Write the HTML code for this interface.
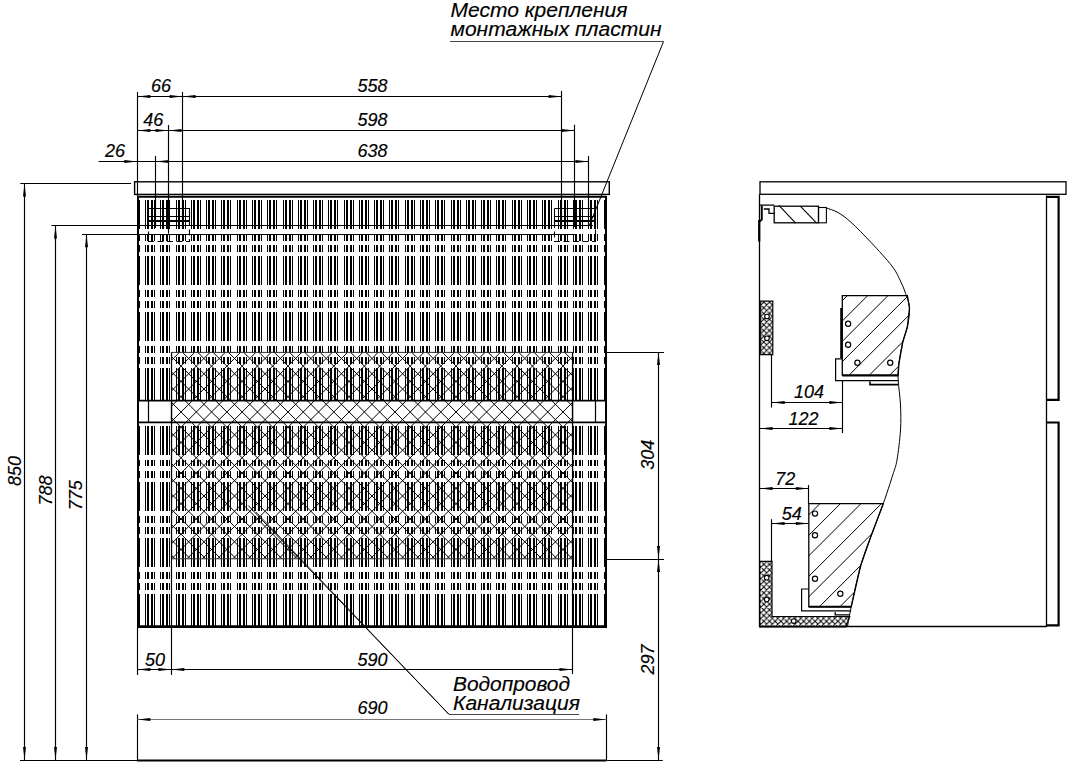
<!DOCTYPE html>
<html><head><meta charset="utf-8"><style>
html,body{margin:0;padding:0;background:#fff;width:1073px;height:769px;overflow:hidden}
svg{display:block}
text{font-family:"Liberation Sans",sans-serif;font-style:italic;fill:#000;stroke:#000;stroke-width:0.15px}
</style></head><body>
<svg width="1073" height="769" viewBox="0 0 1073 769">
<rect width="1073" height="769" fill="#fff"/>
<path d="M145 200h1v29h-1zM145 234h1v7h-1zM145 245h1v7h-1zM145 256h1v29h-1zM145 290h1v7h-1zM145 301h1v7h-1zM145 312h1v29h-1zM145 346h1v7h-1zM145 357h1v7h-1zM145 368h1v32h-1zM145 426h1v29h-1zM145 460h1v6h-1zM145 471h1v7h-1zM145 482h1v29h-1zM145 516h1v7h-1zM145 527h1v7h-1zM145 538h1v29h-1zM145 572h1v7h-1zM145 583h1v7h-1zM145 594h1v32h-1zM147 200h2v29h-2zM147 234h2v7h-2zM147 245h2v7h-2zM147 256h2v29h-2zM147 290h2v7h-2zM147 301h2v7h-2zM147 312h2v29h-2zM147 346h2v7h-2zM147 357h2v7h-2zM147 368h2v32h-2zM147 426h2v29h-2zM147 460h2v6h-2zM147 471h2v7h-2zM147 482h2v29h-2zM147 516h2v7h-2zM147 527h2v7h-2zM147 538h2v29h-2zM147 572h2v7h-2zM147 583h2v7h-2zM147 594h2v32h-2zM151 200h2v29h-2zM151 234h2v7h-2zM151 245h2v7h-2zM151 256h2v29h-2zM151 290h2v7h-2zM151 301h2v7h-2zM151 312h2v29h-2zM151 346h2v7h-2zM151 357h2v7h-2zM151 368h2v32h-2zM151 426h2v29h-2zM151 460h2v6h-2zM151 471h2v7h-2zM151 482h2v29h-2zM151 516h2v7h-2zM151 527h2v7h-2zM151 538h2v29h-2zM151 572h2v7h-2zM151 583h2v7h-2zM151 594h2v32h-2zM154 200h1v29h-1zM154 234h1v7h-1zM154 245h1v7h-1zM154 256h1v29h-1zM154 290h1v7h-1zM154 301h1v7h-1zM154 312h1v29h-1zM154 346h1v7h-1zM154 357h1v7h-1zM154 368h1v32h-1zM154 426h1v29h-1zM154 460h1v6h-1zM154 471h1v7h-1zM154 482h1v29h-1zM154 516h1v7h-1zM154 527h1v7h-1zM154 538h1v29h-1zM154 572h1v7h-1zM154 583h1v7h-1zM154 594h1v32h-1zM160 200h1v29h-1zM160 234h1v7h-1zM160 245h1v7h-1zM160 256h1v29h-1zM160 290h1v7h-1zM160 301h1v7h-1zM160 312h1v29h-1zM160 346h1v7h-1zM160 357h1v7h-1zM160 368h1v32h-1zM160 426h1v29h-1zM160 460h1v6h-1zM160 471h1v7h-1zM160 482h1v29h-1zM160 516h1v7h-1zM160 527h1v7h-1zM160 538h1v29h-1zM160 572h1v7h-1zM160 583h1v7h-1zM160 594h1v32h-1zM162 200h2v29h-2zM162 234h2v7h-2zM162 245h2v7h-2zM162 256h2v29h-2zM162 290h2v7h-2zM162 301h2v7h-2zM162 312h2v29h-2zM162 346h2v7h-2zM162 357h2v7h-2zM162 368h2v32h-2zM162 426h2v29h-2zM162 460h2v6h-2zM162 471h2v7h-2zM162 482h2v29h-2zM162 516h2v7h-2zM162 527h2v7h-2zM162 538h2v29h-2zM162 572h2v7h-2zM162 583h2v7h-2zM162 594h2v32h-2zM166 200h2v29h-2zM166 234h2v7h-2zM166 245h2v7h-2zM166 256h2v29h-2zM166 290h2v7h-2zM166 301h2v7h-2zM166 312h2v29h-2zM166 346h2v7h-2zM166 357h2v7h-2zM166 368h2v32h-2zM166 426h2v29h-2zM166 460h2v6h-2zM166 471h2v7h-2zM166 482h2v29h-2zM166 516h2v7h-2zM166 527h2v7h-2zM166 538h2v29h-2zM166 572h2v7h-2zM166 583h2v7h-2zM166 594h2v32h-2zM169 200h1v29h-1zM169 234h1v7h-1zM169 245h1v7h-1zM169 256h1v29h-1zM169 290h1v7h-1zM169 301h1v7h-1zM169 312h1v29h-1zM169 346h1v7h-1zM169 357h1v7h-1zM169 368h1v32h-1zM169 426h1v29h-1zM169 460h1v6h-1zM169 471h1v7h-1zM169 482h1v29h-1zM169 516h1v7h-1zM169 527h1v7h-1zM169 538h1v29h-1zM169 572h1v7h-1zM169 583h1v7h-1zM169 594h1v32h-1zM176 200h1v29h-1zM176 234h1v7h-1zM176 245h1v7h-1zM176 256h1v29h-1zM176 290h1v7h-1zM176 301h1v7h-1zM176 312h1v29h-1zM176 346h1v7h-1zM176 357h1v7h-1zM176 368h1v32h-1zM176 426h1v29h-1zM176 460h1v6h-1zM176 471h1v7h-1zM176 482h1v29h-1zM176 516h1v7h-1zM176 527h1v7h-1zM176 538h1v29h-1zM176 572h1v7h-1zM176 583h1v7h-1zM176 594h1v32h-1zM178 200h2v29h-2zM178 234h2v7h-2zM178 245h2v7h-2zM178 256h2v29h-2zM178 290h2v7h-2zM178 301h2v7h-2zM178 312h2v29h-2zM178 346h2v7h-2zM178 357h2v7h-2zM178 368h2v32h-2zM178 426h2v29h-2zM178 460h2v6h-2zM178 471h2v7h-2zM178 482h2v29h-2zM178 516h2v7h-2zM178 527h2v7h-2zM178 538h2v29h-2zM178 572h2v7h-2zM178 583h2v7h-2zM178 594h2v32h-2zM182 200h2v29h-2zM182 234h2v7h-2zM182 245h2v7h-2zM182 256h2v29h-2zM182 290h2v7h-2zM182 301h2v7h-2zM182 312h2v29h-2zM182 346h2v7h-2zM182 357h2v7h-2zM182 368h2v32h-2zM182 426h2v29h-2zM182 460h2v6h-2zM182 471h2v7h-2zM182 482h2v29h-2zM182 516h2v7h-2zM182 527h2v7h-2zM182 538h2v29h-2zM182 572h2v7h-2zM182 583h2v7h-2zM182 594h2v32h-2zM185 200h1v29h-1zM185 234h1v7h-1zM185 245h1v7h-1zM185 256h1v29h-1zM185 290h1v7h-1zM185 301h1v7h-1zM185 312h1v29h-1zM185 346h1v7h-1zM185 357h1v7h-1zM185 368h1v32h-1zM185 426h1v29h-1zM185 460h1v6h-1zM185 471h1v7h-1zM185 482h1v29h-1zM185 516h1v7h-1zM185 527h1v7h-1zM185 538h1v29h-1zM185 572h1v7h-1zM185 583h1v7h-1zM185 594h1v32h-1zM191 200h1v29h-1zM191 234h1v7h-1zM191 245h1v7h-1zM191 256h1v29h-1zM191 290h1v7h-1zM191 301h1v7h-1zM191 312h1v29h-1zM191 346h1v7h-1zM191 357h1v7h-1zM191 368h1v32h-1zM191 426h1v29h-1zM191 460h1v6h-1zM191 471h1v7h-1zM191 482h1v29h-1zM191 516h1v7h-1zM191 527h1v7h-1zM191 538h1v29h-1zM191 572h1v7h-1zM191 583h1v7h-1zM191 594h1v32h-1zM193 200h2v29h-2zM193 234h2v7h-2zM193 245h2v7h-2zM193 256h2v29h-2zM193 290h2v7h-2zM193 301h2v7h-2zM193 312h2v29h-2zM193 346h2v7h-2zM193 357h2v7h-2zM193 368h2v32h-2zM193 426h2v29h-2zM193 460h2v6h-2zM193 471h2v7h-2zM193 482h2v29h-2zM193 516h2v7h-2zM193 527h2v7h-2zM193 538h2v29h-2zM193 572h2v7h-2zM193 583h2v7h-2zM193 594h2v32h-2zM197 200h2v29h-2zM197 234h2v7h-2zM197 245h2v7h-2zM197 256h2v29h-2zM197 290h2v7h-2zM197 301h2v7h-2zM197 312h2v29h-2zM197 346h2v7h-2zM197 357h2v7h-2zM197 368h2v32h-2zM197 426h2v29h-2zM197 460h2v6h-2zM197 471h2v7h-2zM197 482h2v29h-2zM197 516h2v7h-2zM197 527h2v7h-2zM197 538h2v29h-2zM197 572h2v7h-2zM197 583h2v7h-2zM197 594h2v32h-2zM200 200h1v29h-1zM200 234h1v7h-1zM200 245h1v7h-1zM200 256h1v29h-1zM200 290h1v7h-1zM200 301h1v7h-1zM200 312h1v29h-1zM200 346h1v7h-1zM200 357h1v7h-1zM200 368h1v32h-1zM200 426h1v29h-1zM200 460h1v6h-1zM200 471h1v7h-1zM200 482h1v29h-1zM200 516h1v7h-1zM200 527h1v7h-1zM200 538h1v29h-1zM200 572h1v7h-1zM200 583h1v7h-1zM200 594h1v32h-1zM206 200h1v29h-1zM206 234h1v7h-1zM206 245h1v7h-1zM206 256h1v29h-1zM206 290h1v7h-1zM206 301h1v7h-1zM206 312h1v29h-1zM206 346h1v7h-1zM206 357h1v7h-1zM206 368h1v32h-1zM206 426h1v29h-1zM206 460h1v6h-1zM206 471h1v7h-1zM206 482h1v29h-1zM206 516h1v7h-1zM206 527h1v7h-1zM206 538h1v29h-1zM206 572h1v7h-1zM206 583h1v7h-1zM206 594h1v32h-1zM208 200h2v29h-2zM208 234h2v7h-2zM208 245h2v7h-2zM208 256h2v29h-2zM208 290h2v7h-2zM208 301h2v7h-2zM208 312h2v29h-2zM208 346h2v7h-2zM208 357h2v7h-2zM208 368h2v32h-2zM208 426h2v29h-2zM208 460h2v6h-2zM208 471h2v7h-2zM208 482h2v29h-2zM208 516h2v7h-2zM208 527h2v7h-2zM208 538h2v29h-2zM208 572h2v7h-2zM208 583h2v7h-2zM208 594h2v32h-2zM212 200h2v29h-2zM212 234h2v7h-2zM212 245h2v7h-2zM212 256h2v29h-2zM212 290h2v7h-2zM212 301h2v7h-2zM212 312h2v29h-2zM212 346h2v7h-2zM212 357h2v7h-2zM212 368h2v32h-2zM212 426h2v29h-2zM212 460h2v6h-2zM212 471h2v7h-2zM212 482h2v29h-2zM212 516h2v7h-2zM212 527h2v7h-2zM212 538h2v29h-2zM212 572h2v7h-2zM212 583h2v7h-2zM212 594h2v32h-2zM215 200h1v29h-1zM215 234h1v7h-1zM215 245h1v7h-1zM215 256h1v29h-1zM215 290h1v7h-1zM215 301h1v7h-1zM215 312h1v29h-1zM215 346h1v7h-1zM215 357h1v7h-1zM215 368h1v32h-1zM215 426h1v29h-1zM215 460h1v6h-1zM215 471h1v7h-1zM215 482h1v29h-1zM215 516h1v7h-1zM215 527h1v7h-1zM215 538h1v29h-1zM215 572h1v7h-1zM215 583h1v7h-1zM215 594h1v32h-1zM221 200h1v29h-1zM221 234h1v7h-1zM221 245h1v7h-1zM221 256h1v29h-1zM221 290h1v7h-1zM221 301h1v7h-1zM221 312h1v29h-1zM221 346h1v7h-1zM221 357h1v7h-1zM221 368h1v32h-1zM221 426h1v29h-1zM221 460h1v6h-1zM221 471h1v7h-1zM221 482h1v29h-1zM221 516h1v7h-1zM221 527h1v7h-1zM221 538h1v29h-1zM221 572h1v7h-1zM221 583h1v7h-1zM221 594h1v32h-1zM223 200h2v29h-2zM223 234h2v7h-2zM223 245h2v7h-2zM223 256h2v29h-2zM223 290h2v7h-2zM223 301h2v7h-2zM223 312h2v29h-2zM223 346h2v7h-2zM223 357h2v7h-2zM223 368h2v32h-2zM223 426h2v29h-2zM223 460h2v6h-2zM223 471h2v7h-2zM223 482h2v29h-2zM223 516h2v7h-2zM223 527h2v7h-2zM223 538h2v29h-2zM223 572h2v7h-2zM223 583h2v7h-2zM223 594h2v32h-2zM227 200h2v29h-2zM227 234h2v7h-2zM227 245h2v7h-2zM227 256h2v29h-2zM227 290h2v7h-2zM227 301h2v7h-2zM227 312h2v29h-2zM227 346h2v7h-2zM227 357h2v7h-2zM227 368h2v32h-2zM227 426h2v29h-2zM227 460h2v6h-2zM227 471h2v7h-2zM227 482h2v29h-2zM227 516h2v7h-2zM227 527h2v7h-2zM227 538h2v29h-2zM227 572h2v7h-2zM227 583h2v7h-2zM227 594h2v32h-2zM230 200h1v29h-1zM230 234h1v7h-1zM230 245h1v7h-1zM230 256h1v29h-1zM230 290h1v7h-1zM230 301h1v7h-1zM230 312h1v29h-1zM230 346h1v7h-1zM230 357h1v7h-1zM230 368h1v32h-1zM230 426h1v29h-1zM230 460h1v6h-1zM230 471h1v7h-1zM230 482h1v29h-1zM230 516h1v7h-1zM230 527h1v7h-1zM230 538h1v29h-1zM230 572h1v7h-1zM230 583h1v7h-1zM230 594h1v32h-1zM237 200h1v29h-1zM237 234h1v7h-1zM237 245h1v7h-1zM237 256h1v29h-1zM237 290h1v7h-1zM237 301h1v7h-1zM237 312h1v29h-1zM237 346h1v7h-1zM237 357h1v7h-1zM237 368h1v32h-1zM237 426h1v29h-1zM237 460h1v6h-1zM237 471h1v7h-1zM237 482h1v29h-1zM237 516h1v7h-1zM237 527h1v7h-1zM237 538h1v29h-1zM237 572h1v7h-1zM237 583h1v7h-1zM237 594h1v32h-1zM239 200h2v29h-2zM239 234h2v7h-2zM239 245h2v7h-2zM239 256h2v29h-2zM239 290h2v7h-2zM239 301h2v7h-2zM239 312h2v29h-2zM239 346h2v7h-2zM239 357h2v7h-2zM239 368h2v32h-2zM239 426h2v29h-2zM239 460h2v6h-2zM239 471h2v7h-2zM239 482h2v29h-2zM239 516h2v7h-2zM239 527h2v7h-2zM239 538h2v29h-2zM239 572h2v7h-2zM239 583h2v7h-2zM239 594h2v32h-2zM243 200h2v29h-2zM243 234h2v7h-2zM243 245h2v7h-2zM243 256h2v29h-2zM243 290h2v7h-2zM243 301h2v7h-2zM243 312h2v29h-2zM243 346h2v7h-2zM243 357h2v7h-2zM243 368h2v32h-2zM243 426h2v29h-2zM243 460h2v6h-2zM243 471h2v7h-2zM243 482h2v29h-2zM243 516h2v7h-2zM243 527h2v7h-2zM243 538h2v29h-2zM243 572h2v7h-2zM243 583h2v7h-2zM243 594h2v32h-2zM246 200h1v29h-1zM246 234h1v7h-1zM246 245h1v7h-1zM246 256h1v29h-1zM246 290h1v7h-1zM246 301h1v7h-1zM246 312h1v29h-1zM246 346h1v7h-1zM246 357h1v7h-1zM246 368h1v32h-1zM246 426h1v29h-1zM246 460h1v6h-1zM246 471h1v7h-1zM246 482h1v29h-1zM246 516h1v7h-1zM246 527h1v7h-1zM246 538h1v29h-1zM246 572h1v7h-1zM246 583h1v7h-1zM246 594h1v32h-1zM252 200h1v29h-1zM252 234h1v7h-1zM252 245h1v7h-1zM252 256h1v29h-1zM252 290h1v7h-1zM252 301h1v7h-1zM252 312h1v29h-1zM252 346h1v7h-1zM252 357h1v7h-1zM252 368h1v32h-1zM252 426h1v29h-1zM252 460h1v6h-1zM252 471h1v7h-1zM252 482h1v29h-1zM252 516h1v7h-1zM252 527h1v7h-1zM252 538h1v29h-1zM252 572h1v7h-1zM252 583h1v7h-1zM252 594h1v32h-1zM254 200h2v29h-2zM254 234h2v7h-2zM254 245h2v7h-2zM254 256h2v29h-2zM254 290h2v7h-2zM254 301h2v7h-2zM254 312h2v29h-2zM254 346h2v7h-2zM254 357h2v7h-2zM254 368h2v32h-2zM254 426h2v29h-2zM254 460h2v6h-2zM254 471h2v7h-2zM254 482h2v29h-2zM254 516h2v7h-2zM254 527h2v7h-2zM254 538h2v29h-2zM254 572h2v7h-2zM254 583h2v7h-2zM254 594h2v32h-2zM258 200h2v29h-2zM258 234h2v7h-2zM258 245h2v7h-2zM258 256h2v29h-2zM258 290h2v7h-2zM258 301h2v7h-2zM258 312h2v29h-2zM258 346h2v7h-2zM258 357h2v7h-2zM258 368h2v32h-2zM258 426h2v29h-2zM258 460h2v6h-2zM258 471h2v7h-2zM258 482h2v29h-2zM258 516h2v7h-2zM258 527h2v7h-2zM258 538h2v29h-2zM258 572h2v7h-2zM258 583h2v7h-2zM258 594h2v32h-2zM261 200h1v29h-1zM261 234h1v7h-1zM261 245h1v7h-1zM261 256h1v29h-1zM261 290h1v7h-1zM261 301h1v7h-1zM261 312h1v29h-1zM261 346h1v7h-1zM261 357h1v7h-1zM261 368h1v32h-1zM261 426h1v29h-1zM261 460h1v6h-1zM261 471h1v7h-1zM261 482h1v29h-1zM261 516h1v7h-1zM261 527h1v7h-1zM261 538h1v29h-1zM261 572h1v7h-1zM261 583h1v7h-1zM261 594h1v32h-1zM267 200h1v29h-1zM267 234h1v7h-1zM267 245h1v7h-1zM267 256h1v29h-1zM267 290h1v7h-1zM267 301h1v7h-1zM267 312h1v29h-1zM267 346h1v7h-1zM267 357h1v7h-1zM267 368h1v32h-1zM267 426h1v29h-1zM267 460h1v6h-1zM267 471h1v7h-1zM267 482h1v29h-1zM267 516h1v7h-1zM267 527h1v7h-1zM267 538h1v29h-1zM267 572h1v7h-1zM267 583h1v7h-1zM267 594h1v32h-1zM269 200h2v29h-2zM269 234h2v7h-2zM269 245h2v7h-2zM269 256h2v29h-2zM269 290h2v7h-2zM269 301h2v7h-2zM269 312h2v29h-2zM269 346h2v7h-2zM269 357h2v7h-2zM269 368h2v32h-2zM269 426h2v29h-2zM269 460h2v6h-2zM269 471h2v7h-2zM269 482h2v29h-2zM269 516h2v7h-2zM269 527h2v7h-2zM269 538h2v29h-2zM269 572h2v7h-2zM269 583h2v7h-2zM269 594h2v32h-2zM273 200h2v29h-2zM273 234h2v7h-2zM273 245h2v7h-2zM273 256h2v29h-2zM273 290h2v7h-2zM273 301h2v7h-2zM273 312h2v29h-2zM273 346h2v7h-2zM273 357h2v7h-2zM273 368h2v32h-2zM273 426h2v29h-2zM273 460h2v6h-2zM273 471h2v7h-2zM273 482h2v29h-2zM273 516h2v7h-2zM273 527h2v7h-2zM273 538h2v29h-2zM273 572h2v7h-2zM273 583h2v7h-2zM273 594h2v32h-2zM276 200h1v29h-1zM276 234h1v7h-1zM276 245h1v7h-1zM276 256h1v29h-1zM276 290h1v7h-1zM276 301h1v7h-1zM276 312h1v29h-1zM276 346h1v7h-1zM276 357h1v7h-1zM276 368h1v32h-1zM276 426h1v29h-1zM276 460h1v6h-1zM276 471h1v7h-1zM276 482h1v29h-1zM276 516h1v7h-1zM276 527h1v7h-1zM276 538h1v29h-1zM276 572h1v7h-1zM276 583h1v7h-1zM276 594h1v32h-1zM283 200h1v29h-1zM283 234h1v7h-1zM283 245h1v7h-1zM283 256h1v29h-1zM283 290h1v7h-1zM283 301h1v7h-1zM283 312h1v29h-1zM283 346h1v7h-1zM283 357h1v7h-1zM283 368h1v32h-1zM283 426h1v29h-1zM283 460h1v6h-1zM283 471h1v7h-1zM283 482h1v29h-1zM283 516h1v7h-1zM283 527h1v7h-1zM283 538h1v29h-1zM283 572h1v7h-1zM283 583h1v7h-1zM283 594h1v32h-1zM285 200h2v29h-2zM285 234h2v7h-2zM285 245h2v7h-2zM285 256h2v29h-2zM285 290h2v7h-2zM285 301h2v7h-2zM285 312h2v29h-2zM285 346h2v7h-2zM285 357h2v7h-2zM285 368h2v32h-2zM285 426h2v29h-2zM285 460h2v6h-2zM285 471h2v7h-2zM285 482h2v29h-2zM285 516h2v7h-2zM285 527h2v7h-2zM285 538h2v29h-2zM285 572h2v7h-2zM285 583h2v7h-2zM285 594h2v32h-2zM289 200h2v29h-2zM289 234h2v7h-2zM289 245h2v7h-2zM289 256h2v29h-2zM289 290h2v7h-2zM289 301h2v7h-2zM289 312h2v29h-2zM289 346h2v7h-2zM289 357h2v7h-2zM289 368h2v32h-2zM289 426h2v29h-2zM289 460h2v6h-2zM289 471h2v7h-2zM289 482h2v29h-2zM289 516h2v7h-2zM289 527h2v7h-2zM289 538h2v29h-2zM289 572h2v7h-2zM289 583h2v7h-2zM289 594h2v32h-2zM292 200h1v29h-1zM292 234h1v7h-1zM292 245h1v7h-1zM292 256h1v29h-1zM292 290h1v7h-1zM292 301h1v7h-1zM292 312h1v29h-1zM292 346h1v7h-1zM292 357h1v7h-1zM292 368h1v32h-1zM292 426h1v29h-1zM292 460h1v6h-1zM292 471h1v7h-1zM292 482h1v29h-1zM292 516h1v7h-1zM292 527h1v7h-1zM292 538h1v29h-1zM292 572h1v7h-1zM292 583h1v7h-1zM292 594h1v32h-1zM298 200h1v29h-1zM298 234h1v7h-1zM298 245h1v7h-1zM298 256h1v29h-1zM298 290h1v7h-1zM298 301h1v7h-1zM298 312h1v29h-1zM298 346h1v7h-1zM298 357h1v7h-1zM298 368h1v32h-1zM298 426h1v29h-1zM298 460h1v6h-1zM298 471h1v7h-1zM298 482h1v29h-1zM298 516h1v7h-1zM298 527h1v7h-1zM298 538h1v29h-1zM298 572h1v7h-1zM298 583h1v7h-1zM298 594h1v32h-1zM300 200h2v29h-2zM300 234h2v7h-2zM300 245h2v7h-2zM300 256h2v29h-2zM300 290h2v7h-2zM300 301h2v7h-2zM300 312h2v29h-2zM300 346h2v7h-2zM300 357h2v7h-2zM300 368h2v32h-2zM300 426h2v29h-2zM300 460h2v6h-2zM300 471h2v7h-2zM300 482h2v29h-2zM300 516h2v7h-2zM300 527h2v7h-2zM300 538h2v29h-2zM300 572h2v7h-2zM300 583h2v7h-2zM300 594h2v32h-2zM304 200h2v29h-2zM304 234h2v7h-2zM304 245h2v7h-2zM304 256h2v29h-2zM304 290h2v7h-2zM304 301h2v7h-2zM304 312h2v29h-2zM304 346h2v7h-2zM304 357h2v7h-2zM304 368h2v32h-2zM304 426h2v29h-2zM304 460h2v6h-2zM304 471h2v7h-2zM304 482h2v29h-2zM304 516h2v7h-2zM304 527h2v7h-2zM304 538h2v29h-2zM304 572h2v7h-2zM304 583h2v7h-2zM304 594h2v32h-2zM307 200h1v29h-1zM307 234h1v7h-1zM307 245h1v7h-1zM307 256h1v29h-1zM307 290h1v7h-1zM307 301h1v7h-1zM307 312h1v29h-1zM307 346h1v7h-1zM307 357h1v7h-1zM307 368h1v32h-1zM307 426h1v29h-1zM307 460h1v6h-1zM307 471h1v7h-1zM307 482h1v29h-1zM307 516h1v7h-1zM307 527h1v7h-1zM307 538h1v29h-1zM307 572h1v7h-1zM307 583h1v7h-1zM307 594h1v32h-1zM313 200h1v29h-1zM313 234h1v7h-1zM313 245h1v7h-1zM313 256h1v29h-1zM313 290h1v7h-1zM313 301h1v7h-1zM313 312h1v29h-1zM313 346h1v7h-1zM313 357h1v7h-1zM313 368h1v32h-1zM313 426h1v29h-1zM313 460h1v6h-1zM313 471h1v7h-1zM313 482h1v29h-1zM313 516h1v7h-1zM313 527h1v7h-1zM313 538h1v29h-1zM313 572h1v7h-1zM313 583h1v7h-1zM313 594h1v32h-1zM315 200h2v29h-2zM315 234h2v7h-2zM315 245h2v7h-2zM315 256h2v29h-2zM315 290h2v7h-2zM315 301h2v7h-2zM315 312h2v29h-2zM315 346h2v7h-2zM315 357h2v7h-2zM315 368h2v32h-2zM315 426h2v29h-2zM315 460h2v6h-2zM315 471h2v7h-2zM315 482h2v29h-2zM315 516h2v7h-2zM315 527h2v7h-2zM315 538h2v29h-2zM315 572h2v7h-2zM315 583h2v7h-2zM315 594h2v32h-2zM319 200h2v29h-2zM319 234h2v7h-2zM319 245h2v7h-2zM319 256h2v29h-2zM319 290h2v7h-2zM319 301h2v7h-2zM319 312h2v29h-2zM319 346h2v7h-2zM319 357h2v7h-2zM319 368h2v32h-2zM319 426h2v29h-2zM319 460h2v6h-2zM319 471h2v7h-2zM319 482h2v29h-2zM319 516h2v7h-2zM319 527h2v7h-2zM319 538h2v29h-2zM319 572h2v7h-2zM319 583h2v7h-2zM319 594h2v32h-2zM322 200h1v29h-1zM322 234h1v7h-1zM322 245h1v7h-1zM322 256h1v29h-1zM322 290h1v7h-1zM322 301h1v7h-1zM322 312h1v29h-1zM322 346h1v7h-1zM322 357h1v7h-1zM322 368h1v32h-1zM322 426h1v29h-1zM322 460h1v6h-1zM322 471h1v7h-1zM322 482h1v29h-1zM322 516h1v7h-1zM322 527h1v7h-1zM322 538h1v29h-1zM322 572h1v7h-1zM322 583h1v7h-1zM322 594h1v32h-1zM328 200h1v29h-1zM328 234h1v7h-1zM328 245h1v7h-1zM328 256h1v29h-1zM328 290h1v7h-1zM328 301h1v7h-1zM328 312h1v29h-1zM328 346h1v7h-1zM328 357h1v7h-1zM328 368h1v32h-1zM328 426h1v29h-1zM328 460h1v6h-1zM328 471h1v7h-1zM328 482h1v29h-1zM328 516h1v7h-1zM328 527h1v7h-1zM328 538h1v29h-1zM328 572h1v7h-1zM328 583h1v7h-1zM328 594h1v32h-1zM330 200h2v29h-2zM330 234h2v7h-2zM330 245h2v7h-2zM330 256h2v29h-2zM330 290h2v7h-2zM330 301h2v7h-2zM330 312h2v29h-2zM330 346h2v7h-2zM330 357h2v7h-2zM330 368h2v32h-2zM330 426h2v29h-2zM330 460h2v6h-2zM330 471h2v7h-2zM330 482h2v29h-2zM330 516h2v7h-2zM330 527h2v7h-2zM330 538h2v29h-2zM330 572h2v7h-2zM330 583h2v7h-2zM330 594h2v32h-2zM334 200h2v29h-2zM334 234h2v7h-2zM334 245h2v7h-2zM334 256h2v29h-2zM334 290h2v7h-2zM334 301h2v7h-2zM334 312h2v29h-2zM334 346h2v7h-2zM334 357h2v7h-2zM334 368h2v32h-2zM334 426h2v29h-2zM334 460h2v6h-2zM334 471h2v7h-2zM334 482h2v29h-2zM334 516h2v7h-2zM334 527h2v7h-2zM334 538h2v29h-2zM334 572h2v7h-2zM334 583h2v7h-2zM334 594h2v32h-2zM337 200h1v29h-1zM337 234h1v7h-1zM337 245h1v7h-1zM337 256h1v29h-1zM337 290h1v7h-1zM337 301h1v7h-1zM337 312h1v29h-1zM337 346h1v7h-1zM337 357h1v7h-1zM337 368h1v32h-1zM337 426h1v29h-1zM337 460h1v6h-1zM337 471h1v7h-1zM337 482h1v29h-1zM337 516h1v7h-1zM337 527h1v7h-1zM337 538h1v29h-1zM337 572h1v7h-1zM337 583h1v7h-1zM337 594h1v32h-1zM344 200h1v29h-1zM344 234h1v7h-1zM344 245h1v7h-1zM344 256h1v29h-1zM344 290h1v7h-1zM344 301h1v7h-1zM344 312h1v29h-1zM344 346h1v7h-1zM344 357h1v7h-1zM344 368h1v32h-1zM344 426h1v29h-1zM344 460h1v6h-1zM344 471h1v7h-1zM344 482h1v29h-1zM344 516h1v7h-1zM344 527h1v7h-1zM344 538h1v29h-1zM344 572h1v7h-1zM344 583h1v7h-1zM344 594h1v32h-1zM346 200h2v29h-2zM346 234h2v7h-2zM346 245h2v7h-2zM346 256h2v29h-2zM346 290h2v7h-2zM346 301h2v7h-2zM346 312h2v29h-2zM346 346h2v7h-2zM346 357h2v7h-2zM346 368h2v32h-2zM346 426h2v29h-2zM346 460h2v6h-2zM346 471h2v7h-2zM346 482h2v29h-2zM346 516h2v7h-2zM346 527h2v7h-2zM346 538h2v29h-2zM346 572h2v7h-2zM346 583h2v7h-2zM346 594h2v32h-2zM350 200h2v29h-2zM350 234h2v7h-2zM350 245h2v7h-2zM350 256h2v29h-2zM350 290h2v7h-2zM350 301h2v7h-2zM350 312h2v29h-2zM350 346h2v7h-2zM350 357h2v7h-2zM350 368h2v32h-2zM350 426h2v29h-2zM350 460h2v6h-2zM350 471h2v7h-2zM350 482h2v29h-2zM350 516h2v7h-2zM350 527h2v7h-2zM350 538h2v29h-2zM350 572h2v7h-2zM350 583h2v7h-2zM350 594h2v32h-2zM353 200h1v29h-1zM353 234h1v7h-1zM353 245h1v7h-1zM353 256h1v29h-1zM353 290h1v7h-1zM353 301h1v7h-1zM353 312h1v29h-1zM353 346h1v7h-1zM353 357h1v7h-1zM353 368h1v32h-1zM353 426h1v29h-1zM353 460h1v6h-1zM353 471h1v7h-1zM353 482h1v29h-1zM353 516h1v7h-1zM353 527h1v7h-1zM353 538h1v29h-1zM353 572h1v7h-1zM353 583h1v7h-1zM353 594h1v32h-1zM359 200h1v29h-1zM359 234h1v7h-1zM359 245h1v7h-1zM359 256h1v29h-1zM359 290h1v7h-1zM359 301h1v7h-1zM359 312h1v29h-1zM359 346h1v7h-1zM359 357h1v7h-1zM359 368h1v32h-1zM359 426h1v29h-1zM359 460h1v6h-1zM359 471h1v7h-1zM359 482h1v29h-1zM359 516h1v7h-1zM359 527h1v7h-1zM359 538h1v29h-1zM359 572h1v7h-1zM359 583h1v7h-1zM359 594h1v32h-1zM361 200h2v29h-2zM361 234h2v7h-2zM361 245h2v7h-2zM361 256h2v29h-2zM361 290h2v7h-2zM361 301h2v7h-2zM361 312h2v29h-2zM361 346h2v7h-2zM361 357h2v7h-2zM361 368h2v32h-2zM361 426h2v29h-2zM361 460h2v6h-2zM361 471h2v7h-2zM361 482h2v29h-2zM361 516h2v7h-2zM361 527h2v7h-2zM361 538h2v29h-2zM361 572h2v7h-2zM361 583h2v7h-2zM361 594h2v32h-2zM365 200h2v29h-2zM365 234h2v7h-2zM365 245h2v7h-2zM365 256h2v29h-2zM365 290h2v7h-2zM365 301h2v7h-2zM365 312h2v29h-2zM365 346h2v7h-2zM365 357h2v7h-2zM365 368h2v32h-2zM365 426h2v29h-2zM365 460h2v6h-2zM365 471h2v7h-2zM365 482h2v29h-2zM365 516h2v7h-2zM365 527h2v7h-2zM365 538h2v29h-2zM365 572h2v7h-2zM365 583h2v7h-2zM365 594h2v32h-2zM368 200h1v29h-1zM368 234h1v7h-1zM368 245h1v7h-1zM368 256h1v29h-1zM368 290h1v7h-1zM368 301h1v7h-1zM368 312h1v29h-1zM368 346h1v7h-1zM368 357h1v7h-1zM368 368h1v32h-1zM368 426h1v29h-1zM368 460h1v6h-1zM368 471h1v7h-1zM368 482h1v29h-1zM368 516h1v7h-1zM368 527h1v7h-1zM368 538h1v29h-1zM368 572h1v7h-1zM368 583h1v7h-1zM368 594h1v32h-1zM374 200h1v29h-1zM374 234h1v7h-1zM374 245h1v7h-1zM374 256h1v29h-1zM374 290h1v7h-1zM374 301h1v7h-1zM374 312h1v29h-1zM374 346h1v7h-1zM374 357h1v7h-1zM374 368h1v32h-1zM374 426h1v29h-1zM374 460h1v6h-1zM374 471h1v7h-1zM374 482h1v29h-1zM374 516h1v7h-1zM374 527h1v7h-1zM374 538h1v29h-1zM374 572h1v7h-1zM374 583h1v7h-1zM374 594h1v32h-1zM376 200h2v29h-2zM376 234h2v7h-2zM376 245h2v7h-2zM376 256h2v29h-2zM376 290h2v7h-2zM376 301h2v7h-2zM376 312h2v29h-2zM376 346h2v7h-2zM376 357h2v7h-2zM376 368h2v32h-2zM376 426h2v29h-2zM376 460h2v6h-2zM376 471h2v7h-2zM376 482h2v29h-2zM376 516h2v7h-2zM376 527h2v7h-2zM376 538h2v29h-2zM376 572h2v7h-2zM376 583h2v7h-2zM376 594h2v32h-2zM380 200h2v29h-2zM380 234h2v7h-2zM380 245h2v7h-2zM380 256h2v29h-2zM380 290h2v7h-2zM380 301h2v7h-2zM380 312h2v29h-2zM380 346h2v7h-2zM380 357h2v7h-2zM380 368h2v32h-2zM380 426h2v29h-2zM380 460h2v6h-2zM380 471h2v7h-2zM380 482h2v29h-2zM380 516h2v7h-2zM380 527h2v7h-2zM380 538h2v29h-2zM380 572h2v7h-2zM380 583h2v7h-2zM380 594h2v32h-2zM383 200h1v29h-1zM383 234h1v7h-1zM383 245h1v7h-1zM383 256h1v29h-1zM383 290h1v7h-1zM383 301h1v7h-1zM383 312h1v29h-1zM383 346h1v7h-1zM383 357h1v7h-1zM383 368h1v32h-1zM383 426h1v29h-1zM383 460h1v6h-1zM383 471h1v7h-1zM383 482h1v29h-1zM383 516h1v7h-1zM383 527h1v7h-1zM383 538h1v29h-1zM383 572h1v7h-1zM383 583h1v7h-1zM383 594h1v32h-1zM389 200h1v29h-1zM389 234h1v7h-1zM389 245h1v7h-1zM389 256h1v29h-1zM389 290h1v7h-1zM389 301h1v7h-1zM389 312h1v29h-1zM389 346h1v7h-1zM389 357h1v7h-1zM389 368h1v32h-1zM389 426h1v29h-1zM389 460h1v6h-1zM389 471h1v7h-1zM389 482h1v29h-1zM389 516h1v7h-1zM389 527h1v7h-1zM389 538h1v29h-1zM389 572h1v7h-1zM389 583h1v7h-1zM389 594h1v32h-1zM391 200h2v29h-2zM391 234h2v7h-2zM391 245h2v7h-2zM391 256h2v29h-2zM391 290h2v7h-2zM391 301h2v7h-2zM391 312h2v29h-2zM391 346h2v7h-2zM391 357h2v7h-2zM391 368h2v32h-2zM391 426h2v29h-2zM391 460h2v6h-2zM391 471h2v7h-2zM391 482h2v29h-2zM391 516h2v7h-2zM391 527h2v7h-2zM391 538h2v29h-2zM391 572h2v7h-2zM391 583h2v7h-2zM391 594h2v32h-2zM395 200h2v29h-2zM395 234h2v7h-2zM395 245h2v7h-2zM395 256h2v29h-2zM395 290h2v7h-2zM395 301h2v7h-2zM395 312h2v29h-2zM395 346h2v7h-2zM395 357h2v7h-2zM395 368h2v32h-2zM395 426h2v29h-2zM395 460h2v6h-2zM395 471h2v7h-2zM395 482h2v29h-2zM395 516h2v7h-2zM395 527h2v7h-2zM395 538h2v29h-2zM395 572h2v7h-2zM395 583h2v7h-2zM395 594h2v32h-2zM398 200h1v29h-1zM398 234h1v7h-1zM398 245h1v7h-1zM398 256h1v29h-1zM398 290h1v7h-1zM398 301h1v7h-1zM398 312h1v29h-1zM398 346h1v7h-1zM398 357h1v7h-1zM398 368h1v32h-1zM398 426h1v29h-1zM398 460h1v6h-1zM398 471h1v7h-1zM398 482h1v29h-1zM398 516h1v7h-1zM398 527h1v7h-1zM398 538h1v29h-1zM398 572h1v7h-1zM398 583h1v7h-1zM398 594h1v32h-1zM405 200h1v29h-1zM405 234h1v7h-1zM405 245h1v7h-1zM405 256h1v29h-1zM405 290h1v7h-1zM405 301h1v7h-1zM405 312h1v29h-1zM405 346h1v7h-1zM405 357h1v7h-1zM405 368h1v32h-1zM405 426h1v29h-1zM405 460h1v6h-1zM405 471h1v7h-1zM405 482h1v29h-1zM405 516h1v7h-1zM405 527h1v7h-1zM405 538h1v29h-1zM405 572h1v7h-1zM405 583h1v7h-1zM405 594h1v32h-1zM407 200h2v29h-2zM407 234h2v7h-2zM407 245h2v7h-2zM407 256h2v29h-2zM407 290h2v7h-2zM407 301h2v7h-2zM407 312h2v29h-2zM407 346h2v7h-2zM407 357h2v7h-2zM407 368h2v32h-2zM407 426h2v29h-2zM407 460h2v6h-2zM407 471h2v7h-2zM407 482h2v29h-2zM407 516h2v7h-2zM407 527h2v7h-2zM407 538h2v29h-2zM407 572h2v7h-2zM407 583h2v7h-2zM407 594h2v32h-2zM411 200h2v29h-2zM411 234h2v7h-2zM411 245h2v7h-2zM411 256h2v29h-2zM411 290h2v7h-2zM411 301h2v7h-2zM411 312h2v29h-2zM411 346h2v7h-2zM411 357h2v7h-2zM411 368h2v32h-2zM411 426h2v29h-2zM411 460h2v6h-2zM411 471h2v7h-2zM411 482h2v29h-2zM411 516h2v7h-2zM411 527h2v7h-2zM411 538h2v29h-2zM411 572h2v7h-2zM411 583h2v7h-2zM411 594h2v32h-2zM414 200h1v29h-1zM414 234h1v7h-1zM414 245h1v7h-1zM414 256h1v29h-1zM414 290h1v7h-1zM414 301h1v7h-1zM414 312h1v29h-1zM414 346h1v7h-1zM414 357h1v7h-1zM414 368h1v32h-1zM414 426h1v29h-1zM414 460h1v6h-1zM414 471h1v7h-1zM414 482h1v29h-1zM414 516h1v7h-1zM414 527h1v7h-1zM414 538h1v29h-1zM414 572h1v7h-1zM414 583h1v7h-1zM414 594h1v32h-1zM420 200h1v29h-1zM420 234h1v7h-1zM420 245h1v7h-1zM420 256h1v29h-1zM420 290h1v7h-1zM420 301h1v7h-1zM420 312h1v29h-1zM420 346h1v7h-1zM420 357h1v7h-1zM420 368h1v32h-1zM420 426h1v29h-1zM420 460h1v6h-1zM420 471h1v7h-1zM420 482h1v29h-1zM420 516h1v7h-1zM420 527h1v7h-1zM420 538h1v29h-1zM420 572h1v7h-1zM420 583h1v7h-1zM420 594h1v32h-1zM422 200h2v29h-2zM422 234h2v7h-2zM422 245h2v7h-2zM422 256h2v29h-2zM422 290h2v7h-2zM422 301h2v7h-2zM422 312h2v29h-2zM422 346h2v7h-2zM422 357h2v7h-2zM422 368h2v32h-2zM422 426h2v29h-2zM422 460h2v6h-2zM422 471h2v7h-2zM422 482h2v29h-2zM422 516h2v7h-2zM422 527h2v7h-2zM422 538h2v29h-2zM422 572h2v7h-2zM422 583h2v7h-2zM422 594h2v32h-2zM426 200h2v29h-2zM426 234h2v7h-2zM426 245h2v7h-2zM426 256h2v29h-2zM426 290h2v7h-2zM426 301h2v7h-2zM426 312h2v29h-2zM426 346h2v7h-2zM426 357h2v7h-2zM426 368h2v32h-2zM426 426h2v29h-2zM426 460h2v6h-2zM426 471h2v7h-2zM426 482h2v29h-2zM426 516h2v7h-2zM426 527h2v7h-2zM426 538h2v29h-2zM426 572h2v7h-2zM426 583h2v7h-2zM426 594h2v32h-2zM429 200h1v29h-1zM429 234h1v7h-1zM429 245h1v7h-1zM429 256h1v29h-1zM429 290h1v7h-1zM429 301h1v7h-1zM429 312h1v29h-1zM429 346h1v7h-1zM429 357h1v7h-1zM429 368h1v32h-1zM429 426h1v29h-1zM429 460h1v6h-1zM429 471h1v7h-1zM429 482h1v29h-1zM429 516h1v7h-1zM429 527h1v7h-1zM429 538h1v29h-1zM429 572h1v7h-1zM429 583h1v7h-1zM429 594h1v32h-1zM435 200h1v29h-1zM435 234h1v7h-1zM435 245h1v7h-1zM435 256h1v29h-1zM435 290h1v7h-1zM435 301h1v7h-1zM435 312h1v29h-1zM435 346h1v7h-1zM435 357h1v7h-1zM435 368h1v32h-1zM435 426h1v29h-1zM435 460h1v6h-1zM435 471h1v7h-1zM435 482h1v29h-1zM435 516h1v7h-1zM435 527h1v7h-1zM435 538h1v29h-1zM435 572h1v7h-1zM435 583h1v7h-1zM435 594h1v32h-1zM437 200h2v29h-2zM437 234h2v7h-2zM437 245h2v7h-2zM437 256h2v29h-2zM437 290h2v7h-2zM437 301h2v7h-2zM437 312h2v29h-2zM437 346h2v7h-2zM437 357h2v7h-2zM437 368h2v32h-2zM437 426h2v29h-2zM437 460h2v6h-2zM437 471h2v7h-2zM437 482h2v29h-2zM437 516h2v7h-2zM437 527h2v7h-2zM437 538h2v29h-2zM437 572h2v7h-2zM437 583h2v7h-2zM437 594h2v32h-2zM441 200h2v29h-2zM441 234h2v7h-2zM441 245h2v7h-2zM441 256h2v29h-2zM441 290h2v7h-2zM441 301h2v7h-2zM441 312h2v29h-2zM441 346h2v7h-2zM441 357h2v7h-2zM441 368h2v32h-2zM441 426h2v29h-2zM441 460h2v6h-2zM441 471h2v7h-2zM441 482h2v29h-2zM441 516h2v7h-2zM441 527h2v7h-2zM441 538h2v29h-2zM441 572h2v7h-2zM441 583h2v7h-2zM441 594h2v32h-2zM444 200h1v29h-1zM444 234h1v7h-1zM444 245h1v7h-1zM444 256h1v29h-1zM444 290h1v7h-1zM444 301h1v7h-1zM444 312h1v29h-1zM444 346h1v7h-1zM444 357h1v7h-1zM444 368h1v32h-1zM444 426h1v29h-1zM444 460h1v6h-1zM444 471h1v7h-1zM444 482h1v29h-1zM444 516h1v7h-1zM444 527h1v7h-1zM444 538h1v29h-1zM444 572h1v7h-1zM444 583h1v7h-1zM444 594h1v32h-1zM451 200h1v29h-1zM451 234h1v7h-1zM451 245h1v7h-1zM451 256h1v29h-1zM451 290h1v7h-1zM451 301h1v7h-1zM451 312h1v29h-1zM451 346h1v7h-1zM451 357h1v7h-1zM451 368h1v32h-1zM451 426h1v29h-1zM451 460h1v6h-1zM451 471h1v7h-1zM451 482h1v29h-1zM451 516h1v7h-1zM451 527h1v7h-1zM451 538h1v29h-1zM451 572h1v7h-1zM451 583h1v7h-1zM451 594h1v32h-1zM453 200h2v29h-2zM453 234h2v7h-2zM453 245h2v7h-2zM453 256h2v29h-2zM453 290h2v7h-2zM453 301h2v7h-2zM453 312h2v29h-2zM453 346h2v7h-2zM453 357h2v7h-2zM453 368h2v32h-2zM453 426h2v29h-2zM453 460h2v6h-2zM453 471h2v7h-2zM453 482h2v29h-2zM453 516h2v7h-2zM453 527h2v7h-2zM453 538h2v29h-2zM453 572h2v7h-2zM453 583h2v7h-2zM453 594h2v32h-2zM457 200h2v29h-2zM457 234h2v7h-2zM457 245h2v7h-2zM457 256h2v29h-2zM457 290h2v7h-2zM457 301h2v7h-2zM457 312h2v29h-2zM457 346h2v7h-2zM457 357h2v7h-2zM457 368h2v32h-2zM457 426h2v29h-2zM457 460h2v6h-2zM457 471h2v7h-2zM457 482h2v29h-2zM457 516h2v7h-2zM457 527h2v7h-2zM457 538h2v29h-2zM457 572h2v7h-2zM457 583h2v7h-2zM457 594h2v32h-2zM460 200h1v29h-1zM460 234h1v7h-1zM460 245h1v7h-1zM460 256h1v29h-1zM460 290h1v7h-1zM460 301h1v7h-1zM460 312h1v29h-1zM460 346h1v7h-1zM460 357h1v7h-1zM460 368h1v32h-1zM460 426h1v29h-1zM460 460h1v6h-1zM460 471h1v7h-1zM460 482h1v29h-1zM460 516h1v7h-1zM460 527h1v7h-1zM460 538h1v29h-1zM460 572h1v7h-1zM460 583h1v7h-1zM460 594h1v32h-1zM466 200h1v29h-1zM466 234h1v7h-1zM466 245h1v7h-1zM466 256h1v29h-1zM466 290h1v7h-1zM466 301h1v7h-1zM466 312h1v29h-1zM466 346h1v7h-1zM466 357h1v7h-1zM466 368h1v32h-1zM466 426h1v29h-1zM466 460h1v6h-1zM466 471h1v7h-1zM466 482h1v29h-1zM466 516h1v7h-1zM466 527h1v7h-1zM466 538h1v29h-1zM466 572h1v7h-1zM466 583h1v7h-1zM466 594h1v32h-1zM468 200h2v29h-2zM468 234h2v7h-2zM468 245h2v7h-2zM468 256h2v29h-2zM468 290h2v7h-2zM468 301h2v7h-2zM468 312h2v29h-2zM468 346h2v7h-2zM468 357h2v7h-2zM468 368h2v32h-2zM468 426h2v29h-2zM468 460h2v6h-2zM468 471h2v7h-2zM468 482h2v29h-2zM468 516h2v7h-2zM468 527h2v7h-2zM468 538h2v29h-2zM468 572h2v7h-2zM468 583h2v7h-2zM468 594h2v32h-2zM472 200h2v29h-2zM472 234h2v7h-2zM472 245h2v7h-2zM472 256h2v29h-2zM472 290h2v7h-2zM472 301h2v7h-2zM472 312h2v29h-2zM472 346h2v7h-2zM472 357h2v7h-2zM472 368h2v32h-2zM472 426h2v29h-2zM472 460h2v6h-2zM472 471h2v7h-2zM472 482h2v29h-2zM472 516h2v7h-2zM472 527h2v7h-2zM472 538h2v29h-2zM472 572h2v7h-2zM472 583h2v7h-2zM472 594h2v32h-2zM475 200h1v29h-1zM475 234h1v7h-1zM475 245h1v7h-1zM475 256h1v29h-1zM475 290h1v7h-1zM475 301h1v7h-1zM475 312h1v29h-1zM475 346h1v7h-1zM475 357h1v7h-1zM475 368h1v32h-1zM475 426h1v29h-1zM475 460h1v6h-1zM475 471h1v7h-1zM475 482h1v29h-1zM475 516h1v7h-1zM475 527h1v7h-1zM475 538h1v29h-1zM475 572h1v7h-1zM475 583h1v7h-1zM475 594h1v32h-1zM481 200h1v29h-1zM481 234h1v7h-1zM481 245h1v7h-1zM481 256h1v29h-1zM481 290h1v7h-1zM481 301h1v7h-1zM481 312h1v29h-1zM481 346h1v7h-1zM481 357h1v7h-1zM481 368h1v32h-1zM481 426h1v29h-1zM481 460h1v6h-1zM481 471h1v7h-1zM481 482h1v29h-1zM481 516h1v7h-1zM481 527h1v7h-1zM481 538h1v29h-1zM481 572h1v7h-1zM481 583h1v7h-1zM481 594h1v32h-1zM483 200h2v29h-2zM483 234h2v7h-2zM483 245h2v7h-2zM483 256h2v29h-2zM483 290h2v7h-2zM483 301h2v7h-2zM483 312h2v29h-2zM483 346h2v7h-2zM483 357h2v7h-2zM483 368h2v32h-2zM483 426h2v29h-2zM483 460h2v6h-2zM483 471h2v7h-2zM483 482h2v29h-2zM483 516h2v7h-2zM483 527h2v7h-2zM483 538h2v29h-2zM483 572h2v7h-2zM483 583h2v7h-2zM483 594h2v32h-2zM487 200h2v29h-2zM487 234h2v7h-2zM487 245h2v7h-2zM487 256h2v29h-2zM487 290h2v7h-2zM487 301h2v7h-2zM487 312h2v29h-2zM487 346h2v7h-2zM487 357h2v7h-2zM487 368h2v32h-2zM487 426h2v29h-2zM487 460h2v6h-2zM487 471h2v7h-2zM487 482h2v29h-2zM487 516h2v7h-2zM487 527h2v7h-2zM487 538h2v29h-2zM487 572h2v7h-2zM487 583h2v7h-2zM487 594h2v32h-2zM490 200h1v29h-1zM490 234h1v7h-1zM490 245h1v7h-1zM490 256h1v29h-1zM490 290h1v7h-1zM490 301h1v7h-1zM490 312h1v29h-1zM490 346h1v7h-1zM490 357h1v7h-1zM490 368h1v32h-1zM490 426h1v29h-1zM490 460h1v6h-1zM490 471h1v7h-1zM490 482h1v29h-1zM490 516h1v7h-1zM490 527h1v7h-1zM490 538h1v29h-1zM490 572h1v7h-1zM490 583h1v7h-1zM490 594h1v32h-1zM496 200h1v29h-1zM496 234h1v7h-1zM496 245h1v7h-1zM496 256h1v29h-1zM496 290h1v7h-1zM496 301h1v7h-1zM496 312h1v29h-1zM496 346h1v7h-1zM496 357h1v7h-1zM496 368h1v32h-1zM496 426h1v29h-1zM496 460h1v6h-1zM496 471h1v7h-1zM496 482h1v29h-1zM496 516h1v7h-1zM496 527h1v7h-1zM496 538h1v29h-1zM496 572h1v7h-1zM496 583h1v7h-1zM496 594h1v32h-1zM498 200h2v29h-2zM498 234h2v7h-2zM498 245h2v7h-2zM498 256h2v29h-2zM498 290h2v7h-2zM498 301h2v7h-2zM498 312h2v29h-2zM498 346h2v7h-2zM498 357h2v7h-2zM498 368h2v32h-2zM498 426h2v29h-2zM498 460h2v6h-2zM498 471h2v7h-2zM498 482h2v29h-2zM498 516h2v7h-2zM498 527h2v7h-2zM498 538h2v29h-2zM498 572h2v7h-2zM498 583h2v7h-2zM498 594h2v32h-2zM502 200h2v29h-2zM502 234h2v7h-2zM502 245h2v7h-2zM502 256h2v29h-2zM502 290h2v7h-2zM502 301h2v7h-2zM502 312h2v29h-2zM502 346h2v7h-2zM502 357h2v7h-2zM502 368h2v32h-2zM502 426h2v29h-2zM502 460h2v6h-2zM502 471h2v7h-2zM502 482h2v29h-2zM502 516h2v7h-2zM502 527h2v7h-2zM502 538h2v29h-2zM502 572h2v7h-2zM502 583h2v7h-2zM502 594h2v32h-2zM505 200h1v29h-1zM505 234h1v7h-1zM505 245h1v7h-1zM505 256h1v29h-1zM505 290h1v7h-1zM505 301h1v7h-1zM505 312h1v29h-1zM505 346h1v7h-1zM505 357h1v7h-1zM505 368h1v32h-1zM505 426h1v29h-1zM505 460h1v6h-1zM505 471h1v7h-1zM505 482h1v29h-1zM505 516h1v7h-1zM505 527h1v7h-1zM505 538h1v29h-1zM505 572h1v7h-1zM505 583h1v7h-1zM505 594h1v32h-1zM512 200h1v29h-1zM512 234h1v7h-1zM512 245h1v7h-1zM512 256h1v29h-1zM512 290h1v7h-1zM512 301h1v7h-1zM512 312h1v29h-1zM512 346h1v7h-1zM512 357h1v7h-1zM512 368h1v32h-1zM512 426h1v29h-1zM512 460h1v6h-1zM512 471h1v7h-1zM512 482h1v29h-1zM512 516h1v7h-1zM512 527h1v7h-1zM512 538h1v29h-1zM512 572h1v7h-1zM512 583h1v7h-1zM512 594h1v32h-1zM514 200h2v29h-2zM514 234h2v7h-2zM514 245h2v7h-2zM514 256h2v29h-2zM514 290h2v7h-2zM514 301h2v7h-2zM514 312h2v29h-2zM514 346h2v7h-2zM514 357h2v7h-2zM514 368h2v32h-2zM514 426h2v29h-2zM514 460h2v6h-2zM514 471h2v7h-2zM514 482h2v29h-2zM514 516h2v7h-2zM514 527h2v7h-2zM514 538h2v29h-2zM514 572h2v7h-2zM514 583h2v7h-2zM514 594h2v32h-2zM518 200h2v29h-2zM518 234h2v7h-2zM518 245h2v7h-2zM518 256h2v29h-2zM518 290h2v7h-2zM518 301h2v7h-2zM518 312h2v29h-2zM518 346h2v7h-2zM518 357h2v7h-2zM518 368h2v32h-2zM518 426h2v29h-2zM518 460h2v6h-2zM518 471h2v7h-2zM518 482h2v29h-2zM518 516h2v7h-2zM518 527h2v7h-2zM518 538h2v29h-2zM518 572h2v7h-2zM518 583h2v7h-2zM518 594h2v32h-2zM521 200h1v29h-1zM521 234h1v7h-1zM521 245h1v7h-1zM521 256h1v29h-1zM521 290h1v7h-1zM521 301h1v7h-1zM521 312h1v29h-1zM521 346h1v7h-1zM521 357h1v7h-1zM521 368h1v32h-1zM521 426h1v29h-1zM521 460h1v6h-1zM521 471h1v7h-1zM521 482h1v29h-1zM521 516h1v7h-1zM521 527h1v7h-1zM521 538h1v29h-1zM521 572h1v7h-1zM521 583h1v7h-1zM521 594h1v32h-1zM527 200h1v29h-1zM527 234h1v7h-1zM527 245h1v7h-1zM527 256h1v29h-1zM527 290h1v7h-1zM527 301h1v7h-1zM527 312h1v29h-1zM527 346h1v7h-1zM527 357h1v7h-1zM527 368h1v32h-1zM527 426h1v29h-1zM527 460h1v6h-1zM527 471h1v7h-1zM527 482h1v29h-1zM527 516h1v7h-1zM527 527h1v7h-1zM527 538h1v29h-1zM527 572h1v7h-1zM527 583h1v7h-1zM527 594h1v32h-1zM529 200h2v29h-2zM529 234h2v7h-2zM529 245h2v7h-2zM529 256h2v29h-2zM529 290h2v7h-2zM529 301h2v7h-2zM529 312h2v29h-2zM529 346h2v7h-2zM529 357h2v7h-2zM529 368h2v32h-2zM529 426h2v29h-2zM529 460h2v6h-2zM529 471h2v7h-2zM529 482h2v29h-2zM529 516h2v7h-2zM529 527h2v7h-2zM529 538h2v29h-2zM529 572h2v7h-2zM529 583h2v7h-2zM529 594h2v32h-2zM533 200h2v29h-2zM533 234h2v7h-2zM533 245h2v7h-2zM533 256h2v29h-2zM533 290h2v7h-2zM533 301h2v7h-2zM533 312h2v29h-2zM533 346h2v7h-2zM533 357h2v7h-2zM533 368h2v32h-2zM533 426h2v29h-2zM533 460h2v6h-2zM533 471h2v7h-2zM533 482h2v29h-2zM533 516h2v7h-2zM533 527h2v7h-2zM533 538h2v29h-2zM533 572h2v7h-2zM533 583h2v7h-2zM533 594h2v32h-2zM536 200h1v29h-1zM536 234h1v7h-1zM536 245h1v7h-1zM536 256h1v29h-1zM536 290h1v7h-1zM536 301h1v7h-1zM536 312h1v29h-1zM536 346h1v7h-1zM536 357h1v7h-1zM536 368h1v32h-1zM536 426h1v29h-1zM536 460h1v6h-1zM536 471h1v7h-1zM536 482h1v29h-1zM536 516h1v7h-1zM536 527h1v7h-1zM536 538h1v29h-1zM536 572h1v7h-1zM536 583h1v7h-1zM536 594h1v32h-1zM542 200h1v29h-1zM542 234h1v7h-1zM542 245h1v7h-1zM542 256h1v29h-1zM542 290h1v7h-1zM542 301h1v7h-1zM542 312h1v29h-1zM542 346h1v7h-1zM542 357h1v7h-1zM542 368h1v32h-1zM542 426h1v29h-1zM542 460h1v6h-1zM542 471h1v7h-1zM542 482h1v29h-1zM542 516h1v7h-1zM542 527h1v7h-1zM542 538h1v29h-1zM542 572h1v7h-1zM542 583h1v7h-1zM542 594h1v32h-1zM544 200h2v29h-2zM544 234h2v7h-2zM544 245h2v7h-2zM544 256h2v29h-2zM544 290h2v7h-2zM544 301h2v7h-2zM544 312h2v29h-2zM544 346h2v7h-2zM544 357h2v7h-2zM544 368h2v32h-2zM544 426h2v29h-2zM544 460h2v6h-2zM544 471h2v7h-2zM544 482h2v29h-2zM544 516h2v7h-2zM544 527h2v7h-2zM544 538h2v29h-2zM544 572h2v7h-2zM544 583h2v7h-2zM544 594h2v32h-2zM548 200h2v29h-2zM548 234h2v7h-2zM548 245h2v7h-2zM548 256h2v29h-2zM548 290h2v7h-2zM548 301h2v7h-2zM548 312h2v29h-2zM548 346h2v7h-2zM548 357h2v7h-2zM548 368h2v32h-2zM548 426h2v29h-2zM548 460h2v6h-2zM548 471h2v7h-2zM548 482h2v29h-2zM548 516h2v7h-2zM548 527h2v7h-2zM548 538h2v29h-2zM548 572h2v7h-2zM548 583h2v7h-2zM548 594h2v32h-2zM551 200h1v29h-1zM551 234h1v7h-1zM551 245h1v7h-1zM551 256h1v29h-1zM551 290h1v7h-1zM551 301h1v7h-1zM551 312h1v29h-1zM551 346h1v7h-1zM551 357h1v7h-1zM551 368h1v32h-1zM551 426h1v29h-1zM551 460h1v6h-1zM551 471h1v7h-1zM551 482h1v29h-1zM551 516h1v7h-1zM551 527h1v7h-1zM551 538h1v29h-1zM551 572h1v7h-1zM551 583h1v7h-1zM551 594h1v32h-1zM558 200h1v29h-1zM558 234h1v7h-1zM558 245h1v7h-1zM558 256h1v29h-1zM558 290h1v7h-1zM558 301h1v7h-1zM558 312h1v29h-1zM558 346h1v7h-1zM558 357h1v7h-1zM558 368h1v32h-1zM558 426h1v29h-1zM558 460h1v6h-1zM558 471h1v7h-1zM558 482h1v29h-1zM558 516h1v7h-1zM558 527h1v7h-1zM558 538h1v29h-1zM558 572h1v7h-1zM558 583h1v7h-1zM558 594h1v32h-1zM560 200h2v29h-2zM560 234h2v7h-2zM560 245h2v7h-2zM560 256h2v29h-2zM560 290h2v7h-2zM560 301h2v7h-2zM560 312h2v29h-2zM560 346h2v7h-2zM560 357h2v7h-2zM560 368h2v32h-2zM560 426h2v29h-2zM560 460h2v6h-2zM560 471h2v7h-2zM560 482h2v29h-2zM560 516h2v7h-2zM560 527h2v7h-2zM560 538h2v29h-2zM560 572h2v7h-2zM560 583h2v7h-2zM560 594h2v32h-2zM564 200h2v29h-2zM564 234h2v7h-2zM564 245h2v7h-2zM564 256h2v29h-2zM564 290h2v7h-2zM564 301h2v7h-2zM564 312h2v29h-2zM564 346h2v7h-2zM564 357h2v7h-2zM564 368h2v32h-2zM564 426h2v29h-2zM564 460h2v6h-2zM564 471h2v7h-2zM564 482h2v29h-2zM564 516h2v7h-2zM564 527h2v7h-2zM564 538h2v29h-2zM564 572h2v7h-2zM564 583h2v7h-2zM564 594h2v32h-2zM567 200h1v29h-1zM567 234h1v7h-1zM567 245h1v7h-1zM567 256h1v29h-1zM567 290h1v7h-1zM567 301h1v7h-1zM567 312h1v29h-1zM567 346h1v7h-1zM567 357h1v7h-1zM567 368h1v32h-1zM567 426h1v29h-1zM567 460h1v6h-1zM567 471h1v7h-1zM567 482h1v29h-1zM567 516h1v7h-1zM567 527h1v7h-1zM567 538h1v29h-1zM567 572h1v7h-1zM567 583h1v7h-1zM567 594h1v32h-1zM573 200h1v29h-1zM573 234h1v7h-1zM573 245h1v7h-1zM573 256h1v29h-1zM573 290h1v7h-1zM573 301h1v7h-1zM573 312h1v29h-1zM573 346h1v7h-1zM573 357h1v7h-1zM573 368h1v32h-1zM573 426h1v29h-1zM573 460h1v6h-1zM573 471h1v7h-1zM573 482h1v29h-1zM573 516h1v7h-1zM573 527h1v7h-1zM573 538h1v29h-1zM573 572h1v7h-1zM573 583h1v7h-1zM573 594h1v32h-1zM575 200h2v29h-2zM575 234h2v7h-2zM575 245h2v7h-2zM575 256h2v29h-2zM575 290h2v7h-2zM575 301h2v7h-2zM575 312h2v29h-2zM575 346h2v7h-2zM575 357h2v7h-2zM575 368h2v32h-2zM575 426h2v29h-2zM575 460h2v6h-2zM575 471h2v7h-2zM575 482h2v29h-2zM575 516h2v7h-2zM575 527h2v7h-2zM575 538h2v29h-2zM575 572h2v7h-2zM575 583h2v7h-2zM575 594h2v32h-2zM579 200h2v29h-2zM579 234h2v7h-2zM579 245h2v7h-2zM579 256h2v29h-2zM579 290h2v7h-2zM579 301h2v7h-2zM579 312h2v29h-2zM579 346h2v7h-2zM579 357h2v7h-2zM579 368h2v32h-2zM579 426h2v29h-2zM579 460h2v6h-2zM579 471h2v7h-2zM579 482h2v29h-2zM579 516h2v7h-2zM579 527h2v7h-2zM579 538h2v29h-2zM579 572h2v7h-2zM579 583h2v7h-2zM579 594h2v32h-2zM582 200h1v29h-1zM582 234h1v7h-1zM582 245h1v7h-1zM582 256h1v29h-1zM582 290h1v7h-1zM582 301h1v7h-1zM582 312h1v29h-1zM582 346h1v7h-1zM582 357h1v7h-1zM582 368h1v32h-1zM582 426h1v29h-1zM582 460h1v6h-1zM582 471h1v7h-1zM582 482h1v29h-1zM582 516h1v7h-1zM582 527h1v7h-1zM582 538h1v29h-1zM582 572h1v7h-1zM582 583h1v7h-1zM582 594h1v32h-1zM588 200h1v29h-1zM588 234h1v7h-1zM588 245h1v7h-1zM588 256h1v29h-1zM588 290h1v7h-1zM588 301h1v7h-1zM588 312h1v29h-1zM588 346h1v7h-1zM588 357h1v7h-1zM588 368h1v32h-1zM588 426h1v29h-1zM588 460h1v6h-1zM588 471h1v7h-1zM588 482h1v29h-1zM588 516h1v7h-1zM588 527h1v7h-1zM588 538h1v29h-1zM588 572h1v7h-1zM588 583h1v7h-1zM588 594h1v32h-1zM590 200h2v29h-2zM590 234h2v7h-2zM590 245h2v7h-2zM590 256h2v29h-2zM590 290h2v7h-2zM590 301h2v7h-2zM590 312h2v29h-2zM590 346h2v7h-2zM590 357h2v7h-2zM590 368h2v32h-2zM590 426h2v29h-2zM590 460h2v6h-2zM590 471h2v7h-2zM590 482h2v29h-2zM590 516h2v7h-2zM590 527h2v7h-2zM590 538h2v29h-2zM590 572h2v7h-2zM590 583h2v7h-2zM590 594h2v32h-2zM594 200h2v29h-2zM594 234h2v7h-2zM594 245h2v7h-2zM594 256h2v29h-2zM594 290h2v7h-2zM594 301h2v7h-2zM594 312h2v29h-2zM594 346h2v7h-2zM594 357h2v7h-2zM594 368h2v32h-2zM594 426h2v29h-2zM594 460h2v6h-2zM594 471h2v7h-2zM594 482h2v29h-2zM594 516h2v7h-2zM594 527h2v7h-2zM594 538h2v29h-2zM594 572h2v7h-2zM594 583h2v7h-2zM594 594h2v32h-2zM597 200h1v29h-1zM597 234h1v7h-1zM597 245h1v7h-1zM597 256h1v29h-1zM597 290h1v7h-1zM597 301h1v7h-1zM597 312h1v29h-1zM597 346h1v7h-1zM597 357h1v7h-1zM597 368h1v32h-1zM597 426h1v29h-1zM597 460h1v6h-1zM597 471h1v7h-1zM597 482h1v29h-1zM597 516h1v7h-1zM597 527h1v7h-1zM597 538h1v29h-1zM597 572h1v7h-1zM597 583h1v7h-1zM597 594h1v32h-1z" fill="#000" shape-rendering="crispEdges"/>
<clipPath id="dc"><rect x="171.6" y="352.4" width="401.1" height="206.4"/></clipPath>
<path clip-path="url(#dc)" d="M166.6 -60.88L577.7 350.22M166.6 -45.6L577.7 365.5M166.6 -30.32L577.7 380.78M166.6 -15.04L577.7 396.06M166.6 0.24L577.7 411.34M166.6 15.52L577.7 426.62M166.6 30.8L577.7 441.9M166.6 46.08L577.7 457.18M166.6 61.36L577.7 472.46M166.6 76.64L577.7 487.74M166.6 91.92L577.7 503.02M166.6 107.2L577.7 518.3M166.6 122.48L577.7 533.58M166.6 137.76L577.7 548.86M166.6 153.04L577.7 564.14M166.6 168.32L577.7 579.42M166.6 183.6L577.7 594.7M166.6 198.88L577.7 609.98M166.6 214.16L577.7 625.26M166.6 229.44L577.7 640.54M166.6 244.72L577.7 655.82M166.6 260L577.7 671.1M166.6 275.28L577.7 686.38M166.6 290.56L577.7 701.66M166.6 305.84L577.7 716.94M166.6 321.12L577.7 732.22M166.6 336.4L577.7 747.5M166.6 351.68L577.7 762.78M166.6 366.96L577.7 778.06M166.6 382.24L577.7 793.34M166.6 397.52L577.7 808.62M166.6 412.8L577.7 823.9M166.6 428.08L577.7 839.18M166.6 443.36L577.7 854.46M166.6 458.64L577.7 869.74M166.6 473.92L577.7 885.02M166.6 489.2L577.7 900.3M166.6 504.48L577.7 915.58M166.6 519.76L577.7 930.86M166.6 535.04L577.7 946.14M166.6 550.32L577.7 961.42M166.6 349.96L577.7 -61.14M166.6 365.24L577.7 -45.86M166.6 380.52L577.7 -30.58M166.6 395.8L577.7 -15.3M166.6 411.08L577.7 -0.02M166.6 426.36L577.7 15.26M166.6 441.64L577.7 30.54M166.6 456.92L577.7 45.82M166.6 472.2L577.7 61.1M166.6 487.48L577.7 76.38M166.6 502.76L577.7 91.66M166.6 518.04L577.7 106.94M166.6 533.32L577.7 122.22M166.6 548.6L577.7 137.5M166.6 563.88L577.7 152.78M166.6 579.16L577.7 168.06M166.6 594.44L577.7 183.34M166.6 609.72L577.7 198.62M166.6 625L577.7 213.9M166.6 640.28L577.7 229.18M166.6 655.56L577.7 244.46M166.6 670.84L577.7 259.74M166.6 686.12L577.7 275.02M166.6 701.4L577.7 290.3M166.6 716.68L577.7 305.58M166.6 731.96L577.7 320.86M166.6 747.24L577.7 336.14M166.6 762.52L577.7 351.42M166.6 777.8L577.7 366.7M166.6 793.08L577.7 381.98M166.6 808.36L577.7 397.26M166.6 823.64L577.7 412.54M166.6 838.92L577.7 427.82M166.6 854.2L577.7 443.1M166.6 869.48L577.7 458.38M166.6 884.76L577.7 473.66M166.6 900.04L577.7 488.94M166.6 915.32L577.7 504.22M166.6 930.6L577.7 519.5M166.6 945.88L577.7 534.78M166.6 961.16L577.7 550.06" stroke="#000" stroke-width="1" fill="none"/>
<rect x="138" y="400.3" width="468" height="22.1" fill="#fff"/>
<clipPath id="bc"><rect x="171.6" y="400.3" width="401.1" height="22.1"/></clipPath>
<path clip-path="url(#bc)" d="M166.6 -60.88L577.7 350.22M166.6 -45.6L577.7 365.5M166.6 -30.32L577.7 380.78M166.6 -15.04L577.7 396.06M166.6 0.24L577.7 411.34M166.6 15.52L577.7 426.62M166.6 30.8L577.7 441.9M166.6 46.08L577.7 457.18M166.6 61.36L577.7 472.46M166.6 76.64L577.7 487.74M166.6 91.92L577.7 503.02M166.6 107.2L577.7 518.3M166.6 122.48L577.7 533.58M166.6 137.76L577.7 548.86M166.6 153.04L577.7 564.14M166.6 168.32L577.7 579.42M166.6 183.6L577.7 594.7M166.6 198.88L577.7 609.98M166.6 214.16L577.7 625.26M166.6 229.44L577.7 640.54M166.6 244.72L577.7 655.82M166.6 260L577.7 671.1M166.6 275.28L577.7 686.38M166.6 290.56L577.7 701.66M166.6 305.84L577.7 716.94M166.6 321.12L577.7 732.22M166.6 336.4L577.7 747.5M166.6 351.68L577.7 762.78M166.6 366.96L577.7 778.06M166.6 382.24L577.7 793.34M166.6 397.52L577.7 808.62M166.6 412.8L577.7 823.9M166.6 428.08L577.7 839.18M166.6 443.36L577.7 854.46M166.6 458.64L577.7 869.74M166.6 473.92L577.7 885.02M166.6 489.2L577.7 900.3M166.6 504.48L577.7 915.58M166.6 519.76L577.7 930.86M166.6 535.04L577.7 946.14M166.6 550.32L577.7 961.42M166.6 349.96L577.7 -61.14M166.6 365.24L577.7 -45.86M166.6 380.52L577.7 -30.58M166.6 395.8L577.7 -15.3M166.6 411.08L577.7 -0.02M166.6 426.36L577.7 15.26M166.6 441.64L577.7 30.54M166.6 456.92L577.7 45.82M166.6 472.2L577.7 61.1M166.6 487.48L577.7 76.38M166.6 502.76L577.7 91.66M166.6 518.04L577.7 106.94M166.6 533.32L577.7 122.22M166.6 548.6L577.7 137.5M166.6 563.88L577.7 152.78M166.6 579.16L577.7 168.06M166.6 594.44L577.7 183.34M166.6 609.72L577.7 198.62M166.6 625L577.7 213.9M166.6 640.28L577.7 229.18M166.6 655.56L577.7 244.46M166.6 670.84L577.7 259.74M166.6 686.12L577.7 275.02M166.6 701.4L577.7 290.3M166.6 716.68L577.7 305.58M166.6 731.96L577.7 320.86M166.6 747.24L577.7 336.14M166.6 762.52L577.7 351.42M166.6 777.8L577.7 366.7M166.6 793.08L577.7 381.98M166.6 808.36L577.7 397.26M166.6 823.64L577.7 412.54M166.6 838.92L577.7 427.82M166.6 854.2L577.7 443.1M166.6 869.48L577.7 458.38M166.6 884.76L577.7 473.66M166.6 900.04L577.7 488.94M166.6 915.32L577.7 504.22M166.6 930.6L577.7 519.5M166.6 945.88L577.7 534.78M166.6 961.16L577.7 550.06" stroke="#000" stroke-width="1" fill="none"/>
<line x1="138" y1="400.6" x2="606" y2="400.6" stroke="#000" stroke-width="1.8" />
<line x1="138" y1="422.4" x2="606" y2="422.4" stroke="#000" stroke-width="1.8" />
<line x1="148.5" y1="400.5" x2="148.5" y2="422.2" stroke="#000" stroke-width="1.2" />
<line x1="171.5" y1="400.5" x2="171.5" y2="422.2" stroke="#000" stroke-width="1.2" />
<line x1="572.5" y1="400.5" x2="572.5" y2="422.2" stroke="#000" stroke-width="1.2" />
<line x1="595.5" y1="400.5" x2="595.5" y2="422.2" stroke="#000" stroke-width="1.2" />
<rect x="171.6" y="352.4" width="401.1" height="206.4" stroke="#333" stroke-width="1" fill="none" />
<line x1="171.5" y1="352.4" x2="171.5" y2="627" stroke="#000" stroke-width="1.15" />
<line x1="572.5" y1="352.4" x2="572.5" y2="627" stroke="#000" stroke-width="1.15" />
<rect x="137" y="196" width="2" height="432" fill="#000"/>
<rect x="605" y="196" width="2" height="432" fill="#000"/>
<path d="M139 200h1v29h-1zM604 200h1v29h-1zM139 234h1v7h-1zM604 234h1v7h-1zM139 245h1v7h-1zM604 245h1v7h-1zM139 256h1v29h-1zM604 256h1v29h-1zM139 290h1v7h-1zM604 290h1v7h-1zM139 301h1v7h-1zM604 301h1v7h-1zM139 312h1v29h-1zM604 312h1v29h-1zM139 346h1v7h-1zM604 346h1v7h-1zM139 357h1v7h-1zM604 357h1v7h-1zM139 368h1v32h-1zM604 368h1v32h-1zM139 426h1v29h-1zM604 426h1v29h-1zM139 460h1v6h-1zM604 460h1v6h-1zM139 471h1v7h-1zM604 471h1v7h-1zM139 482h1v29h-1zM604 482h1v29h-1zM139 516h1v7h-1zM604 516h1v7h-1zM139 527h1v7h-1zM604 527h1v7h-1zM139 538h1v29h-1zM604 538h1v29h-1zM139 572h1v7h-1zM604 572h1v7h-1zM139 583h1v7h-1zM604 583h1v7h-1zM139 594h1v32h-1zM604 594h1v32h-1z" fill="#000" shape-rendering="crispEdges"/>
<line x1="137" y1="196.8" x2="606.5" y2="196.8" stroke="#000" stroke-width="2" />
<line x1="137" y1="626.6" x2="606.5" y2="626.6" stroke="#000" stroke-width="2.6" />
<rect x="134.6" y="181.8" width="474.7" height="12.6" stroke="#000" stroke-width="1.4" fill="#fff" />
<path d="M148.5 208.5H189.5V221M148.5 208.5V221M148.5 216.5H189.5" stroke="#000" stroke-width="1.1" fill="none"/>
<path d="M148.0 221H190.0" stroke="#000" stroke-width="2" fill="none"/>
<path d="M148.5 222V241.5H189.5V222" stroke="#000" stroke-width="1.1" fill="none" stroke-dasharray="6 3.5"/>
<path d="M554.5 208.5H595.5V221M554.5 208.5V221M554.5 216.5H595.5" stroke="#000" stroke-width="1.1" fill="none"/>
<path d="M554.0 221H596.0" stroke="#000" stroke-width="2" fill="none"/>
<path d="M554.5 222V241.5H595.5V222" stroke="#000" stroke-width="1.1" fill="none" stroke-dasharray="6 3.5"/>
<line x1="137.5" y1="91.9" x2="137.5" y2="196" stroke="#000" stroke-width="1.15" />
<line x1="182.5" y1="91.9" x2="182.5" y2="229" stroke="#000" stroke-width="1.15" />
<line x1="168.5" y1="125" x2="168.5" y2="233.7" stroke="#000" stroke-width="1.15" />
<line x1="155.5" y1="155.9" x2="155.5" y2="228" stroke="#000" stroke-width="1.15" />
<line x1="561.5" y1="91" x2="561.5" y2="227" stroke="#000" stroke-width="1.15" />
<line x1="574.5" y1="124.8" x2="574.5" y2="227" stroke="#000" stroke-width="1.15" />
<line x1="588.5" y1="156" x2="588.5" y2="227" stroke="#000" stroke-width="1.15" />
<line x1="137.3" y1="96.5" x2="561.6" y2="96.5" stroke="#000" stroke-width="1.15" />
<line x1="137.3" y1="130.5" x2="574.7" y2="130.5" stroke="#000" stroke-width="1.15" />
<line x1="98.6" y1="161.5" x2="588.5" y2="161.5" stroke="#000" stroke-width="1.15" />
<polygon points="137.3,96.5 150.3,95 150.3,98" fill="#000"/>
<polygon points="182.6,96.5 169.6,95 169.6,98" fill="#000"/>
<polygon points="182.6,96.5 195.6,95 195.6,98" fill="#000"/>
<polygon points="561.6,96.5 548.6,95 548.6,98" fill="#000"/>
<polygon points="137.3,130.5 150.3,129 150.3,132" fill="#000"/>
<polygon points="168.5,130.5 155.5,129 155.5,132" fill="#000"/>
<polygon points="168.5,130.5 181.5,129 181.5,132" fill="#000"/>
<polygon points="574.7,130.5 561.7,129 561.7,132" fill="#000"/>
<polygon points="137.3,161.5 124.3,160 124.3,163" fill="#000"/>
<polygon points="155.7,161.5 168.7,160 168.7,163" fill="#000"/>
<polygon points="588.5,161.5 575.5,160 575.5,163" fill="#000"/>
<line x1="20.3" y1="183.5" x2="131" y2="183.5" stroke="#000" stroke-width="1.15" />
<line x1="51.5" y1="225.5" x2="593" y2="225.5" stroke="#000" stroke-width="1.15" />
<line x1="82" y1="234.5" x2="575" y2="234.5" stroke="#000" stroke-width="1.15" />
<line x1="24.5" y1="183.6" x2="24.5" y2="760" stroke="#000" stroke-width="1.15" />
<line x1="55.5" y1="225.4" x2="55.5" y2="760" stroke="#000" stroke-width="1.15" />
<line x1="86.5" y1="234.3" x2="86.5" y2="760" stroke="#000" stroke-width="1.15" />
<polygon points="24.5,183.6 23,196.6 26,196.6" fill="#000"/>
<polygon points="24.5,760 23,747 26,747" fill="#000"/>
<polygon points="55.5,225.4 54,238.4 57,238.4" fill="#000"/>
<polygon points="55.5,760 54,747 57,747" fill="#000"/>
<polygon points="86.5,234.3 85,247.3 88,247.3" fill="#000"/>
<polygon points="86.5,760 85,747 88,747" fill="#000"/>
<line x1="20" y1="760.5" x2="137" y2="760.5" stroke="#000" stroke-width="1.2" />
<line x1="137" y1="760.4" x2="606.5" y2="760.4" stroke="#000" stroke-width="2" />
<line x1="606.5" y1="760.5" x2="662.8" y2="760.5" stroke="#000" stroke-width="1.2" />
<line x1="137.5" y1="627" x2="137.5" y2="675" stroke="#000" stroke-width="1.15" />
<line x1="137.5" y1="714.4" x2="137.5" y2="760" stroke="#000" stroke-width="1.15" />
<line x1="171.5" y1="627" x2="171.5" y2="675" stroke="#000" stroke-width="1.15" />
<line x1="572.5" y1="627" x2="572.5" y2="674" stroke="#000" stroke-width="1.15" />
<line x1="606.5" y1="714.4" x2="606.5" y2="760" stroke="#000" stroke-width="1.15" />
<line x1="137.4" y1="669.5" x2="572.5" y2="669.5" stroke="#000" stroke-width="1.15" />
<polygon points="137.4,669.5 150.4,668 150.4,671" fill="#000"/>
<polygon points="171.4,669.5 158.4,668 158.4,671" fill="#000"/>
<polygon points="171.4,669.5 184.4,668 184.4,671" fill="#000"/>
<polygon points="572.5,669.5 559.5,668 559.5,671" fill="#000"/>
<line x1="137.4" y1="719.5" x2="606.3" y2="719.5" stroke="#777" stroke-width="1.2" />
<polygon points="137.4,719.5 150.4,718 150.4,721" fill="#000"/>
<polygon points="606.3,719.5 593.3,718 593.3,721" fill="#000"/>
<line x1="606" y1="352.5" x2="664" y2="352.5" stroke="#000" stroke-width="1.15" />
<line x1="606" y1="559.5" x2="664" y2="559.5" stroke="#000" stroke-width="1.15" />
<line x1="658.5" y1="352.1" x2="658.5" y2="760" stroke="#000" stroke-width="1.15" />
<polygon points="658.5,352.1 657,365.1 660,365.1" fill="#000"/>
<polygon points="658.5,559 657,546 660,546" fill="#000"/>
<polygon points="658.5,559 657,572 660,572" fill="#000"/>
<polygon points="658.5,760 657,747 660,747" fill="#000"/>
<line x1="450" y1="41.5" x2="663.5" y2="41.5" stroke="#444" stroke-width="1.15" />
<line x1="663.5" y1="41.6" x2="589.5" y2="225" stroke="#000" stroke-width="1" />
<line x1="449" y1="714.5" x2="579" y2="714.5" stroke="#444" stroke-width="1.15" />
<line x1="449" y1="714.4" x2="248.2" y2="505.5" stroke="#000" stroke-width="1" />
<line x1="449" y1="714.4" x2="256" y2="512" stroke="#000" stroke-width="0.8" />
<text x="151" y="92" font-size="18" text-anchor="start" >66</text>
<text x="143.2" y="126" font-size="18" text-anchor="start" >46</text>
<text x="105" y="157" font-size="18" text-anchor="start" >26</text>
<text x="357.5" y="92" font-size="18" text-anchor="start" >558</text>
<text x="357.5" y="126" font-size="18" text-anchor="start" >598</text>
<text x="357.5" y="157" font-size="18" text-anchor="start" >638</text>
<text x="145" y="666" font-size="18" text-anchor="start" >50</text>
<text x="357.5" y="666" font-size="18" text-anchor="start" >590</text>
<text x="357.5" y="714" font-size="18" text-anchor="start" >690</text>
<text x="21" y="486" font-size="18" text-anchor="start" transform="rotate(-90 21 486)" >850</text>
<text x="52.3" y="505.5" font-size="18" text-anchor="start" transform="rotate(-90 52.3 505.5)" >788</text>
<text x="81.9" y="510.2" font-size="18" text-anchor="start" transform="rotate(-90 81.9 510.2)" >775</text>
<text x="654.3" y="469.7" font-size="18" text-anchor="start" transform="rotate(-90 654.3 469.7)" >304</text>
<text x="654.3" y="674.5" font-size="18" text-anchor="start" transform="rotate(-90 654.3 674.5)" >297</text>
<text x="450.5" y="16.8" font-size="19.4" text-anchor="start" textLength="177" lengthAdjust="spacingAndGlyphs">Место крепления</text>
<text x="450.5" y="35.8" font-size="19.4" text-anchor="start" textLength="211" lengthAdjust="spacingAndGlyphs">монтажных пластин</text>
<text x="453" y="690.6" font-size="19.4" text-anchor="start" textLength="117" lengthAdjust="spacingAndGlyphs">Водопровод</text>
<text x="453" y="710.2" font-size="19.4" text-anchor="start" textLength="127" lengthAdjust="spacingAndGlyphs">Канализация</text>
<rect x="760" y="181.8" width="306" height="12.5" stroke="#000" stroke-width="1.3" fill="none" />
<line x1="759.5" y1="194.3" x2="759.5" y2="627" stroke="#000" stroke-width="1.3" />
<line x1="759.6" y1="626.5" x2="1046.4" y2="626.5" stroke="#000" stroke-width="1.3" />
<line x1="1046.5" y1="195.5" x2="1046.5" y2="627" stroke="#000" stroke-width="1.3" />
<path d="M1046.4 196.9H1058.6V399.9H1046.4" stroke="#000" stroke-width="2.2" fill="none"/>
<path d="M1046.4 422.5H1058.6V625.4H1046.4" stroke="#000" stroke-width="2.2" fill="none"/>
<path d="M826.4 208C828.33 208.75 833.9 210.12 838 212.5C842.1 214.88 845.43 217.25 851 222.3C856.57 227.35 864.58 235.52 871.4 242.8C878.22 250.08 887.13 259.8 891.9 266C896.67 272.2 897.72 275.43 900 280C902.28 284.57 904.02 288.73 905.6 293.4C907.18 298.07 909.2 302.43 909.5 308C909.8 313.57 908.53 321.07 907.4 326.8C906.27 332.53 904.13 336.17 902.7 342.4C901.27 348.63 899.55 357.93 898.8 364.2C898.05 370.47 897.92 373.2 898.2 380C898.48 386.8 900.12 396.67 900.5 405C900.88 413.33 901.08 420.83 900.5 430C899.92 439.17 898.28 452.53 897 460C895.72 467.47 895.08 467.53 892.8 474.8C890.52 482.07 886.77 493.83 883.3 503.6C879.83 513.37 875.77 523.08 872 533.4C868.23 543.72 864.17 553.23 860.7 565.5C857.23 577.77 853.4 596.83 851.2 607C849 617.17 848.12 623.25 847.5 626.5" stroke="#000" stroke-width="1.0" fill="none"/>
<rect x="774.2" y="206.2" width="44.3" height="16.6" stroke="#000" stroke-width="1.3" fill="none" />
<rect x="818.5" y="207.5" width="7.9" height="15.3" stroke="#000" stroke-width="1.1" fill="none" />
<line x1="778.9" y1="205.4" x2="795.7" y2="223.1" stroke="#000" stroke-width="1.1" />
<line x1="800.3" y1="206.2" x2="816.6" y2="223.1" stroke="#000" stroke-width="1.1" />
<path d="M759.5 205.2H774.3M763.8 209H769V213.3H774" stroke="#000" stroke-width="1.3" fill="none"/>
<path d="M761.8 205.5V219.5L759 222" stroke="#000" stroke-width="1.9" fill="none"/>
<line x1="759.2" y1="220" x2="759.2" y2="241.5" stroke="#000" stroke-width="2.2" />
<clipPath id="ub"><polygon points="842.3,295.6 907.4,295.6 909.5,308 907.4,326.8 902.7,342.4 898.8,364.2 898.2,375.2 842.3,375.2"/></clipPath>
<path clip-path="url(#ub)" d="M749.4 150L199.4 700M769.7 150L219.7 700M790 150L240 700M810.3 150L260.3 700M830.6 150L280.6 700M850.9 150L300.9 700M871.2 150L321.2 700M891.5 150L341.5 700M911.8 150L361.8 700M932.1 150L382.1 700M952.4 150L402.4 700M972.7 150L422.7 700M993 150L443 700M1013.3 150L463.3 700M1033.6 150L483.6 700M1053.9 150L503.9 700M1074.2 150L524.2 700M1094.5 150L544.5 700M1114.8 150L564.8 700M1135.1 150L585.1 700M1155.4 150L605.4 700M1175.7 150L625.7 700M1196 150L646 700M1216.3 150L666.3 700" stroke="#000" stroke-width="1" fill="none"/>
<polygon points="842.3,295.6 907.4,295.6 909.5,308 907.4,326.8 902.7,342.4 898.8,364.2 898.2,375.2 842.3,375.2" stroke="#000" stroke-width="1.3" fill="none"/>
<line x1="841.2" y1="308" x2="841.2" y2="358" stroke="#000" stroke-width="2" />
<path d="M842.3 358.8H835.6V380.6H898.2" stroke="#000" stroke-width="1.2" fill="none"/>
<line x1="842.3" y1="375.6" x2="898.2" y2="375.6" stroke="#000" stroke-width="2" />
<path d="M870 381.4V384.6H898.2" stroke="#000" stroke-width="1.6" fill="none"/>
<circle cx="848.1" cy="323.7" r="2.6" stroke="#000" stroke-width="1.2" fill="#fff"/>
<circle cx="848.1" cy="344.7" r="2.6" stroke="#000" stroke-width="1.2" fill="#fff"/>
<circle cx="857.4" cy="362.7" r="2.6" stroke="#000" stroke-width="1.2" fill="#fff"/>
<circle cx="890.2" cy="362.7" r="2.6" stroke="#000" stroke-width="1.2" fill="#fff"/>
<clipPath id="lb"><polygon points="808.8,503.6 883.3,503.6 872,533.4 860.7,565.5 851.2,606.6 808.8,606.6"/></clipPath>
<path clip-path="url(#lb)" d="M927.6 150L377.6 700M948.1 150L398.1 700M968.6 150L418.6 700M989.1 150L439.1 700M1009.6 150L459.6 700M1030.1 150L480.1 700M1050.6 150L500.6 700M1071.1 150L521.1 700M1091.6 150L541.6 700M1112.1 150L562.1 700M1132.6 150L582.6 700M1153.1 150L603.1 700M1173.6 150L623.6 700M1194.1 150L644.1 700M1214.6 150L664.6 700M1235.1 150L685.1 700M1255.6 150L705.6 700M1276.1 150L726.1 700M1296.6 150L746.6 700M1317.1 150L767.1 700M1337.6 150L787.6 700M1358.1 150L808.1 700M1378.6 150L828.6 700M1399.1 150L849.1 700" stroke="#000" stroke-width="1" fill="none"/>
<polygon points="808.8,503.6 883.3,503.6 872,533.4 860.7,565.5 851.2,606.6 808.8,606.6" stroke="#000" stroke-width="1.3" fill="none"/>
<line x1="808.8" y1="606.8" x2="851.2" y2="606.8" stroke="#000" stroke-width="2" />
<path d="M808.8 589H801.6V610.8H851.2" stroke="#000" stroke-width="1.2" fill="none"/>
<path d="M835.2 612.3V614.9H849.3" stroke="#000" stroke-width="1.4" fill="none"/>
<circle cx="815" cy="513.6" r="2.6" stroke="#000" stroke-width="1.2" fill="#fff"/>
<circle cx="815" cy="535.3" r="2.6" stroke="#000" stroke-width="1.2" fill="#fff"/>
<circle cx="815" cy="578.7" r="2.6" stroke="#000" stroke-width="1.2" fill="#fff"/>
<circle cx="840.3" cy="593.8" r="2.6" stroke="#000" stroke-width="1.2" fill="#fff"/>
<pattern id="xh" patternUnits="userSpaceOnUse" width="5.7" height="5.7"><path d="M0 0L5.7 5.7M5.7 0L0 5.7M-1 4.7L1 6.7M4.7 -1L6.7 1M-1 1L1 -1M4.7 6.7L6.7 4.7" stroke="#000" stroke-width="1.0"/></pattern>
<path d="M760.7 301.2H772.8V354.7H760.7Z" fill="url(#xh)" stroke="#000" stroke-width="1.2"/>
<path d="M759.7 561.3H772V616.5H849.7L845.8 627H759.7Z" fill="url(#xh)" stroke="#000" stroke-width="1.2"/>
<circle cx="767" cy="316.5" r="2.3" stroke="#000" stroke-width="1.1" fill="#fff"/>
<circle cx="767" cy="338.3" r="2.3" stroke="#000" stroke-width="1.1" fill="#fff"/>
<circle cx="766.7" cy="577.7" r="2.3" stroke="#000" stroke-width="1.1" fill="#fff"/>
<circle cx="766.7" cy="599.4" r="2.3" stroke="#000" stroke-width="1.1" fill="#fff"/>
<circle cx="793.7" cy="621.1" r="2.3" stroke="#000" stroke-width="1.1" fill="#fff"/>
<line x1="771.5" y1="355" x2="771.5" y2="407.5" stroke="#000" stroke-width="1.15" />
<line x1="842.5" y1="380" x2="842.5" y2="433" stroke="#000" stroke-width="1.15" />
<line x1="771.7" y1="402.5" x2="842.3" y2="402.5" stroke="#000" stroke-width="1.15" />
<polygon points="771.7,402.5 784.7,401 784.7,404" fill="#000"/>
<polygon points="842.3,402.5 829.3,401 829.3,404" fill="#000"/>
<line x1="759.6" y1="428.5" x2="842.3" y2="428.5" stroke="#000" stroke-width="1.15" />
<polygon points="759.6,428.5 772.6,427 772.6,430" fill="#000"/>
<polygon points="842.3,428.5 829.3,427 829.3,430" fill="#000"/>
<text x="794" y="398.4" font-size="18" text-anchor="start" >104</text>
<text x="788.4" y="425" font-size="18" text-anchor="start" >122</text>
<line x1="808.5" y1="485" x2="808.5" y2="503.6" stroke="#000" stroke-width="1.15" />
<line x1="759.6" y1="488.5" x2="808.8" y2="488.5" stroke="#000" stroke-width="1.15" />
<polygon points="759.6,488.5 772.6,487 772.6,490" fill="#000"/>
<polygon points="808.8,488.5 795.8,487 795.8,490" fill="#000"/>
<line x1="771.5" y1="519.2" x2="771.5" y2="561.7" stroke="#000" stroke-width="1.15" />
<line x1="771.6" y1="523.5" x2="808.8" y2="523.5" stroke="#000" stroke-width="1.15" />
<polygon points="771.6,523.5 784.6,522 784.6,525" fill="#000"/>
<polygon points="808.8,523.5 795.8,522 795.8,525" fill="#000"/>
<text x="775.2" y="485.2" font-size="18" text-anchor="start" >72</text>
<text x="781.8" y="519.8" font-size="18" text-anchor="start" >54</text>
</svg></body></html>
